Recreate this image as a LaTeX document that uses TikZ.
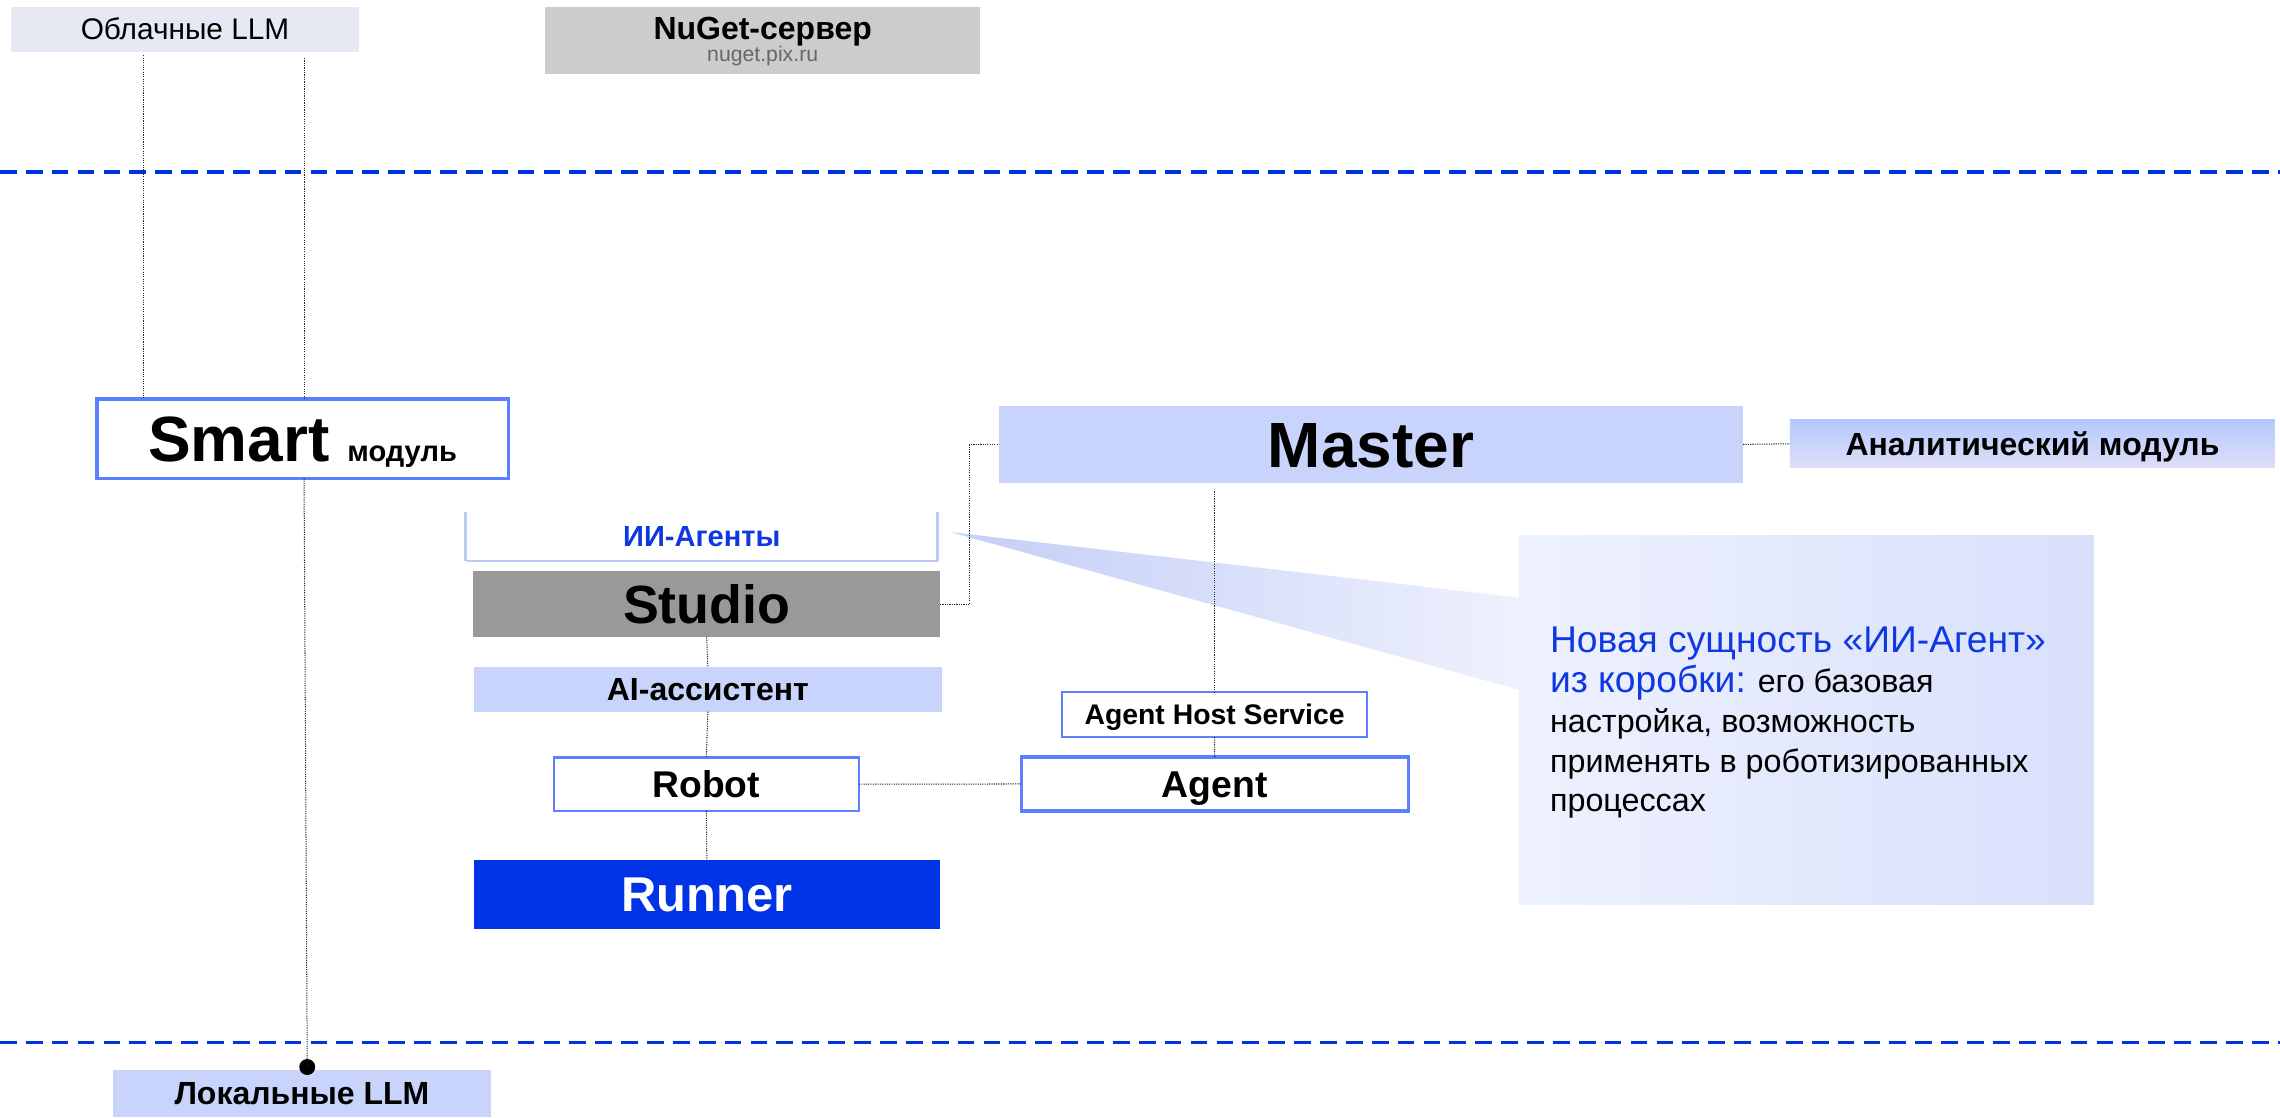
\documentclass[tikz,border=0pt]{standalone}
\usepackage{fontspec}
\setmainfont{Liberation Sans}
\usetikzlibrary{calc}
\definecolor{dashblue}{HTML}{0033E0}
\definecolor{bordblue}{HTML}{5B7FFF}
\definecolor{lightblue}{HTML}{C8D4FC}
\definecolor{cloudfill}{HTML}{E6E8F4}
\definecolor{nugetfill}{HTML}{CCCCCC}
\definecolor{studiofill}{HTML}{999999}
\definecolor{runnerfill}{HTML}{0033E6}
\definecolor{textblue}{HTML}{1038E0}
\definecolor{bracketblue}{HTML}{BDCAF6}
\definecolor{analtop}{HTML}{B5C8FF}
\definecolor{analbot}{HTML}{DEDFF7}
\definecolor{callL}{HTML}{EEF1FD}
\definecolor{callR}{HTML}{D8E0FC}
\definecolor{ptrL}{HTML}{C3CEF7}
\newcommand{\fs}[1]{\fontsize{#1}{#1}\selectfont}
\begin{document}
\begin{tikzpicture}[x=1pt,y=-1pt,
  box/.style={rectangle, inner sep=0pt, outer sep=0pt, align=center, text depth=0pt},
  conn/.style={draw=black!85, line width=0.7pt, dash pattern=on 0.8pt off 0.8pt},
  sepline/.style={draw=dashblue, line width=2.2pt, dash pattern=on 11.5pt off 6.3pt},
  txt/.style={inner sep=0pt, outer sep=0pt, anchor=base west},
]
\useasboundingbox (0,0) rectangle (1568,768.2);

% separators
\draw[sepline] (0,118.3) -- (1568,118.3);
\draw[sepline] (0,716.8) -- (1568,716.8);

% top nodes
\node[box, minimum width=239.5pt, minimum height=30.5pt, fill=cloudfill, font=\fs{20.5}, text height=14pt] (cloud) at (127.25,20.25) {Облачные LLM};
\node[box, minimum width=299pt, minimum height=46pt, fill=nugetfill] (nuget) at (524.5,28) {};
\node[inner sep=0pt, anchor=base, font=\fs{22}\bfseries] (nugett) at (524.5,27) {NuGet-сервер};
\node[inner sep=0pt, anchor=base, font=\fs{14.6}, text=black!60] (nugetu) at (524.5,42.4) {nuget.pix.ru};

% Smart
\node[box, minimum width=282.8pt, minimum height=54.5pt, draw=bordblue, line width=2.2pt, fill=white, font=\bfseries, text height=31.5pt] (smart) at (208.1,301.6) {\fs{44}Smart {\fs{20}модуль}};

% Master and analytics
\node[box, minimum width=511.8pt, minimum height=52.8pt, fill=lightblue, font=\bfseries, text height=31.5pt] (master) at (942.9,305.6) {\fs{44}Master};
\node[box, minimum width=333.5pt, minimum height=32.8pt, top color=analtop, bottom color=analbot, font=\fs{22}\bfseries, text height=15.7pt] (analyt) at (1397.75,305.2) {Аналитический модуль};

% AI agents bracket
\node[box, minimum width=324.7pt, minimum height=33.9pt, font=\fs{20}\bfseries, text=textblue, text height=14.3pt] (agents) at (482.65,368.85) {ИИ-Агенты};
\draw[bracketblue, line width=1.2pt] (agents.south west) -- (agents.south east);
\draw[bracketblue, line width=2.2pt] (agents.north west) -- (agents.south west);
\draw[bracketblue, line width=2.2pt] (agents.north east) -- (agents.south east);

% left column
\node[box, minimum width=321pt, minimum height=45.6pt, fill=studiofill, font=\fs{37}\bfseries, text height=26.5pt] (studio) at (486,415.5) {Studio};
\node[box, minimum width=321.6pt, minimum height=30.5pt, fill=lightblue, font=\fs{22}\bfseries, text height=15.7pt] (aiass) at (486.8,474.15) {AI-ассистент};
\node[box, minimum width=209.9pt, minimum height=36.5pt, draw=bordblue, line width=1.5pt, fill=white, font=\fs{25.6}\bfseries, text height=18.3pt] (robot) at (485.75,539.25) {Robot};
\node[box, minimum width=320.2pt, minimum height=47.3pt, fill=runnerfill, text=white, font=\fs{33.6}\bfseries, text height=24pt] (runner) at (486.1,615.05) {Runner};

% agent column
\node[box, minimum width=209.4pt, minimum height=30.9pt, draw=bordblue, line width=1.5pt, fill=white, font=\fs{19.5}\bfseries, text height=14pt] (ahs) at (835.3,491.55) {Agent Host Service};
\node[box, minimum width=266.2pt, minimum height=37.1pt, draw=bordblue, line width=2.2pt, fill=white, font=\fs{25.7}\bfseries, text height=18.4pt] (agent) at (835.4,539.15) {Agent};

% local LLM
\node[box, minimum width=260.1pt, minimum height=32.2pt, fill=lightblue, font=\fs{22}\bfseries, text height=15.7pt] (local) at (207.65,751.9) {Локальные LLM};
\node[circle, fill=black, inner sep=0pt, minimum size=11pt] (dot) at (211.3,733.8) {};

% callout
\shade[left color=ptrL, right color=callL] (654,366) -- (1045,411) -- (1045,474.5) -- cycle;
\node[box, minimum width=395pt, minimum height=253.4pt, left color=callL, right color=callR] (callout) at (1242.5,495.3) {};
\node[txt, font=\fs{25.6}, text=textblue] (ct1) at (1066,449) {Новая сущность «ИИ-Агент»};
\node[txt, font=\fs{22.2}] (ct2) at (1066,476.5) {{\fs{25.6}\color{textblue}из коробки:} его базовая};
\node[txt, font=\fs{22.2}] (ct3) at (1066,504) {настройка, возможность};
\node[txt, font=\fs{22.2}] (ct4) at (1066,531) {применять в роботизированных};
\node[txt, font=\fs{22.2}] (ct5) at (1066,558) {процессах};

% connectors
\draw[conn, shorten <=2.5pt] ([xshift=-28.55pt]cloud.south) -- ([xshift=-28.55pt]cloud.south |- smart.north);
\draw[conn, shorten <=4.5pt] ([xshift=82.45pt]cloud.south) -- ([xshift=82.45pt]cloud.south |- smart.north);
\draw[conn] ([xshift=1pt]smart.south) -- (dot.center);
\draw[conn] (studio.east) -- ++(20.5,0) |- (master.west);
\draw[conn] (master.east) -- (analyt.west);
\draw[conn] (studio.south) -- (aiass.north);
\draw[conn] (aiass.south) -- (robot.north);
\draw[conn] (robot.south) -- (runner.north);
\draw[conn] (robot.east) -- (agent.west);
\draw[conn, shorten <=6pt] (ahs.north |- master.south) -- (ahs.north);
\draw[conn] (ahs.south) -- (agent.north);
\end{tikzpicture}
\end{document}
